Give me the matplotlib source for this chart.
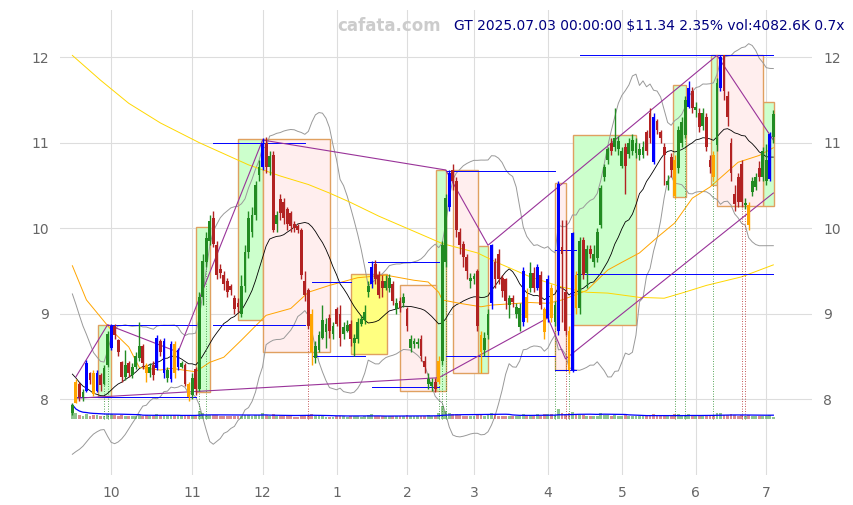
import numpy as np
import pandas as pd
import matplotlib
matplotlib.use("Agg")
from matplotlib import pyplot as plt
from matplotlib.patches import Rectangle

# trading days per month, Sep 16 2024 .. Jul 3 2025
month_days = [11, 23, 20, 21, 20, 19, 21, 21, 21, 20, 3]
month_labels = ['', '10', '11', '12', '1', '2', '3', '4', '5', '6', '7']

opens = [7.84, 7.95, 8.18, 8.02, 8.10, 8.30, 8.30, 8.10, 8.28, 8.18, 8.40,
         8.60, 8.86, 8.69, 8.43, 8.26, 8.42, 8.28, 8.38, 8.48, 8.62, 8.40, 8.30, 8.40, 8.36, 8.68, 8.30, 8.25, 8.24, 8.65, 8.38, 8.38, 8.40, 8.18,
         8.05, 8.35, 8.12, 9.20, 9.60, 9.85, 10.12, 9.80, 9.52, 9.45, 9.38, 9.32, 9.18, 9.12, 9.00, 9.32, 9.72, 9.95, 10.15, 10.62,
         10.72, 11.00, 10.72, 10.85, 10.05, 10.34, 10.30, 10.22, 10.18, 10.05, 10.02, 9.98, 9.38, 9.28, 9.00, 8.48, 8.58, 8.72, 8.78, 8.95, 8.76,
         9.05, 9.00, 8.76, 8.80, 8.88, 8.66, 8.70, 8.88, 8.92, 9.25, 9.35, 9.58, 9.45, 9.38, 9.30, 9.30, 9.35, 9.05, 9.15, 9.12,
         9.05, 8.60, 8.64, 8.64, 8.70, 8.45, 8.18, 8.15, 8.20, 8.20, 8.45, 9.60, 10.25, 10.68, 10.55, 9.95, 9.82, 9.66, 9.38,
         9.40, 9.50, 8.75, 8.58, 8.75, 9.12, 9.60, 9.70, 9.42, 9.40, 9.10, 9.18, 9.00, 8.84, 8.90, 9.20, 9.30, 9.48, 9.30, 9.45, 9.05,
         8.95, 9.30, 8.90, 8.80, 9.78, 9.25, 8.80, 8.34, 9.45, 9.06, 9.86, 9.48, 9.75, 9.60, 9.65, 10.04, 10.60, 10.80, 11.00, 10.95, 10.92,
         10.73, 10.95, 10.87, 10.90, 10.88, 10.85, 10.86, 11.12, 11.35, 11.30, 11.25, 11.12, 10.95, 10.50, 10.83, 10.80, 10.70, 11.00, 11.09, 11.42, 11.60,
         11.38, 11.35, 11.20, 11.30, 10.80, 10.85, 10.97, 11.64, 12.02, 11.55, 11.00, 10.40, 10.60, 10.75, 10.27, 10.27, 10.42, 10.48, 10.70, 10.60,
         10.55, 10.58, 11.07]
closes = [7.93, 8.20, 8.02, 8.08, 8.42, 8.22, 8.06, 8.30, 8.16, 8.36, 8.76,
          8.86, 8.75, 8.55, 8.26, 8.40, 8.30, 8.38, 8.50, 8.62, 8.42, 8.30, 8.38, 8.28, 8.72, 8.55, 8.68, 8.34, 8.64, 8.30, 8.58, 8.42, 8.18, 8.02,
          8.25, 8.12, 9.20, 9.62, 9.88, 10.08, 9.82, 9.45, 9.48, 9.35, 9.25, 9.28, 9.05, 9.08, 9.32, 9.72, 10.12, 10.15, 10.50, 10.72,
          11.00, 10.72, 10.84, 9.98, 10.15, 10.18, 10.12, 10.05, 10.02, 10.00, 9.98, 9.45, 9.22, 8.86, 8.55, 8.62, 8.75, 8.92, 8.88, 8.80, 8.85,
          8.88, 8.72, 8.84, 8.87, 8.70, 8.72, 8.90, 8.94, 9.02, 9.32, 9.55, 9.40, 9.22, 9.30, 9.38, 9.42, 9.15, 9.12, 9.07, 9.20,
          8.85, 8.70, 8.68, 8.67, 8.50, 8.38, 8.23, 8.20, 8.12, 8.45, 9.80, 10.35, 10.65, 10.55, 9.98, 9.80, 9.66, 9.50, 9.42,
          9.44, 8.85, 8.55, 8.72, 9.00, 9.80, 9.40, 9.40, 9.27, 9.15, 9.18, 9.14, 9.08, 9.07, 9.50, 8.95, 9.47, 9.30, 9.55, 9.10, 8.78,
          9.40, 8.95, 9.10, 10.52, 9.70, 8.80, 8.34, 9.94, 9.06, 9.85, 9.45, 9.75, 9.70, 9.70, 9.95, 10.47, 10.72, 10.92, 10.90, 11.05, 11.02,
          10.90, 10.73, 11.00, 11.03, 11.00, 10.93, 10.95, 10.90, 11.05, 10.77, 11.15, 11.05, 10.85, 10.55, 10.68, 10.38, 11.15, 11.24, 11.50, 11.64, 11.40,
          11.42, 11.18, 11.35, 10.95, 10.72, 10.60, 11.70, 12.00, 11.60, 11.30, 10.65, 10.28, 10.30, 10.30, 10.28, 10.04, 10.55, 10.60, 10.60, 10.90,
          10.80, 11.10, 11.34]
highs = [7.96, 8.24, 8.20, 8.12, 8.46, 8.32, 8.34, 8.34, 8.30, 8.40, 8.80,
         8.88, 8.88, 8.70, 8.45, 8.57, 8.45, 8.42, 8.55, 8.90, 8.65, 8.42, 8.42, 8.45, 8.75, 8.70, 8.72, 8.38, 8.68, 8.68, 8.60, 8.45, 8.42, 8.20,
         8.30, 8.38, 9.25, 9.70, 9.95, 10.15, 10.20, 9.85, 9.58, 9.50, 9.42, 9.35, 9.22, 9.18, 9.45, 9.80, 10.20, 10.25, 10.55, 10.80,
         11.05, 11.06, 10.90, 10.90, 10.20, 10.40, 10.35, 10.25, 10.20, 10.08, 10.05, 10.00, 9.50, 9.30, 9.05, 8.68, 8.80, 9.10, 8.95, 9.00, 8.90,
         9.08, 9.10, 8.90, 8.92, 8.92, 8.76, 8.95, 8.98, 9.10, 9.38, 9.62, 9.63, 9.50, 9.45, 9.45, 9.46, 9.38, 9.18, 9.20, 9.24,
         9.08, 8.75, 8.72, 8.72, 8.75, 8.50, 8.30, 8.25, 8.25, 8.50, 9.85, 10.40, 10.68, 10.75, 10.60, 10.00, 9.85, 9.70, 9.48,
         9.48, 9.52, 8.80, 8.78, 9.05, 9.82, 9.65, 9.75, 9.45, 9.42, 9.22, 9.22, 9.12, 9.12, 9.55, 9.30, 9.60, 9.55, 9.58, 9.50, 9.08,
         9.45, 9.35, 9.15, 10.55, 10.10, 10.10, 8.85, 9.95, 9.50, 9.90, 9.90, 9.80, 9.80, 9.80, 10.00, 10.50, 10.75, 10.95, 11.05, 11.40, 11.08,
         10.95, 11.00, 11.05, 11.10, 11.05, 11.00, 11.02, 11.15, 11.40, 11.35, 11.28, 11.15, 11.00, 10.62, 10.88, 10.85, 11.20, 11.30, 11.55, 11.72, 11.65,
         11.48, 11.40, 11.40, 11.35, 10.85, 10.90, 11.75, 12.02, 12.03, 11.60, 11.05, 10.50, 10.65, 10.80, 10.35, 10.30, 10.60, 10.65, 10.78, 10.95,
         10.98, 11.12, 11.38]
lows = [7.82, 7.95, 7.98, 7.98, 8.08, 8.18, 8.04, 8.08, 8.10, 8.16, 8.38,
        8.58, 8.70, 8.50, 8.20, 8.22, 8.26, 8.25, 8.35, 8.45, 8.35, 8.20, 8.26, 8.22, 8.34, 8.50, 8.25, 8.20, 8.20, 8.25, 8.34, 8.36, 8.15, 7.98,
        8.00, 8.05, 8.10, 9.10, 9.55, 9.80, 9.78, 9.40, 9.42, 9.28, 9.20, 9.22, 9.00, 9.02, 8.96, 9.25, 9.65, 9.90, 10.10, 10.55,
        10.68, 10.65, 10.62, 9.95, 9.96, 10.10, 10.05, 9.98, 9.96, 9.96, 9.94, 9.40, 9.15, 8.82, 8.40, 8.42, 8.55, 8.70, 8.60, 8.72, 8.70,
        8.85, 8.62, 8.70, 8.78, 8.62, 8.50, 8.66, 8.85, 8.88, 9.20, 9.30, 9.35, 9.18, 9.20, 9.28, 9.25, 9.10, 9.00, 9.02, 9.08,
        8.80, 8.55, 8.60, 8.60, 8.45, 8.30, 8.12, 8.10, 8.08, 8.18, 8.40, 9.55, 10.20, 10.45, 9.90, 9.70, 9.55, 9.40, 9.30,
        9.35, 8.80, 8.30, 8.50, 8.70, 9.05, 9.30, 9.35, 9.20, 9.05, 8.95, 9.08, 8.95, 8.80, 8.85, 8.90, 9.25, 9.25, 9.28, 9.05, 8.70,
        8.90, 8.90, 8.85, 8.75, 8.90, 8.75, 8.30, 8.32, 9.00, 9.00, 9.40, 9.30, 9.65, 9.55, 9.60, 10.00, 10.55, 10.75, 10.85, 10.90, 10.85,
        10.70, 10.40, 10.82, 10.85, 10.82, 10.80, 10.82, 10.85, 11.00, 10.75, 11.10, 11.00, 10.50, 10.45, 10.60, 10.35, 10.65, 10.95, 11.05, 11.40, 11.35,
        11.30, 11.12, 11.15, 10.90, 10.65, 10.55, 10.90, 11.60, 11.50, 11.20, 10.55, 10.20, 10.25, 10.25, 10.22, 9.98, 10.38, 10.45, 10.55, 10.55,
        10.50, 10.55, 11.00]
# volume in thousands
volumes = [22000, 9000, 6000, 5500, 8000, 5000, 6000, 7000, 5000, 5500, 7500,
           8500, 6000, 5500, 7000, 5000, 4800, 4500, 5000, 6000, 5500, 6500, 4800, 5000, 7500, 5000, 7000, 5000, 7000, 6500, 6800, 4500, 5500, 7000,
           5500, 6000, 12000, 9000, 7000, 7000, 6500, 6000, 5000, 5000, 4800, 4500, 5500, 4500, 5500, 6500, 7000, 5500, 6500, 6000,
           9000, 7000, 5500, 8000, 5000, 4500, 4500, 4500, 4200, 4000, 4000, 7000, 5500, 7000, 8500, 5000, 4500, 5000, 4000, 3500, 4000,
           4500, 5500, 4500, 4000, 5000, 4500, 5000, 4000, 4500, 6000, 7500, 5500, 5000, 4500, 4200, 4500, 5000, 4500, 4200, 4500,
           6000, 5500, 4500, 4200, 5500, 5000, 6000, 4800, 5000, 9000, 20000, 12000, 10000, 7500, 8000, 6000, 5500, 5000, 4800,
           4500, 7000, 8000, 5500, 6000, 9500, 6000, 5500, 5000, 5500, 4500, 4200, 4500, 5000, 8000, 7000, 5000, 5000, 7500, 5500, 7500,
           8500, 7500, 6000, 16000, 9000, 8000, 9500, 11000, 7500, 6500, 6000, 5500, 4500, 4500, 5500, 9000, 7000, 6000, 5500, 6500, 5000,
           5000, 6000, 4500, 4500, 4500, 4200, 4200, 5000, 5500, 7500, 5000, 4500, 6000, 5000, 5000, 7500, 8000, 6000, 7000, 8000, 5500,
           4500, 5000, 4500, 5500, 5500, 6500, 9000, 9000, 7000, 6000, 7500, 6500, 5500, 6000, 5000, 6500, 5500, 5000, 4500, 5500,
           5500, 6500, 4082.6]
# closes before the window (needed for the 20-day band at the start)
pre_closes = [9.10, 9.05, 8.95, 8.90, 8.80, 8.70, 8.55, 8.45, 8.40, 8.20,
              8.10, 7.95, 7.90, 7.85, 7.80, 7.75, 7.80, 7.85, 7.82]

# highlighted candles
blue_days = [4, 7, 11, 24, 26, 28, 30, 54, 85, 107, 119, 128, 132, 135, 138, 142, 165, 175, 184, 198]
orange_days = [1, 6, 21, 29, 33, 68, 104, 116, 129, 134, 136, 141, 143, 171, 182, 192]
green_marks = [9, 10, 36, 38, 104, 105, 106, 137, 141, 171, 174, 182]
red_marks = [67, 140, 190, 191]

# slower averages
ma50_idx = [0, 4, 11, 16, 19, 25, 28, 35, 39, 43, 48, 55, 62, 67, 73, 81, 89, 97, 101, 104, 105,
            110, 116, 119, 130, 135, 139, 146, 152, 156, 161, 166, 171, 176, 181, 189, 195, 199]
ma50_val = [9.56, 9.16, 8.81, 8.61, 8.37, 8.34, 8.36, 8.32, 8.43, 8.49, 8.69, 8.98, 9.06, 9.25, 9.33, 9.42, 9.45, 9.39, 9.37, 9.25, 9.16,
            9.12, 9.08, 9.10, 9.13, 9.12, 9.16, 9.27, 9.51, 9.60, 9.71, 9.89, 10.06, 10.35, 10.48, 10.77, 10.85, 10.94]
ma200_idx = [0, 8, 16, 25, 36, 50, 59, 67, 73, 79, 87, 96, 105, 115, 121, 130, 139, 146, 152, 161, 168, 173, 180, 190, 199]
ma200_val = [12.02, 11.73, 11.46, 11.23, 11.00, 10.74, 10.61, 10.51, 10.41, 10.30, 10.14, 9.98, 9.82, 9.71, 9.59, 9.43, 9.31,
             9.25, 9.24, 9.19, 9.18, 9.24, 9.33, 9.43, 9.57]

# swing lines
upper_zz_idx = [1, 10, 30, 54, 106, 118, 183, 199]
upper_zz_val = [8.26, 8.87, 8.55, 11.03, 10.68, 9.80, 12.02, 11.03]
lower_zz_idx = [1, 104, 135, 140, 199]
lower_zz_val = [8.01, 8.25, 8.95, 8.47, 10.41]

# boxes: start, end, low, high
green_boxes = [(7.3, 11.0, 8.03, 8.87), (35.2, 39.1, 8.08, 10.01), (47.1, 54.2, 8.92, 11.04),
               (103.3, 106.2, 8.10, 10.68), (115.3, 118.1, 8.30, 9.79), (142.2, 160.1, 8.87, 11.09),
               (170.4, 174.3, 10.36, 11.67), (181.2, 183.1, 10.50, 12.02), (196.2, 199.3, 10.26, 11.47)]
pink_boxes = [(54.2, 73.2, 8.55, 11.04), (93.0, 103.3, 8.10, 9.33), (108.1, 115.3, 8.30, 10.68),
              (137.1, 140.2, 8.34, 10.53), (183.1, 196.2, 10.26, 12.02)]
yellow_boxes = [(79.2, 89.4, 8.53, 9.46)]

# levels: price, start, end
levels = [(8.87, 10, 35), (8.02, 1, 35), (11.00, 40, 66), (8.87, 40, 66), (9.37, 68, 79),
          (8.50, 68, 83), (9.60, 84, 104), (8.14, 85, 104), (10.67, 106, 137), (8.50, 106, 137),
          (9.74, 137, 143), (8.34, 137, 143), (9.46, 143, 199), (12.02, 144, 199)]

n = len(closes)
x = np.arange(n)
o = np.array(opens)
c = np.array(closes)
h = np.maximum(np.array(highs), np.maximum(o, c))
l = np.minimum(np.array(lows), np.minimum(o, c))
v = np.array(volumes)

full = pd.Series(pre_closes + closes)
ma20 = full.rolling(20).mean().values[len(pre_closes):]
sd20 = full.rolling(20).std(ddof=0).values[len(pre_closes):]

fig = plt.figure(figsize=(8.54, 5.05), dpi=100)
ax = fig.add_axes([0.0703, 0.059, 0.8806, 0.921])

# boxes
for (a, b, lo, hi) in green_boxes:
    ax.add_patch(Rectangle((a, lo), b - a, hi - lo, fc='#ccffcc', ec='#e0a060', lw=1.0, zorder=1))
for (a, b, lo, hi) in pink_boxes:
    ax.add_patch(Rectangle((a, lo), b - a, hi - lo, fc='#ffeeee', ec='#e0a060', lw=1.0, zorder=1))
for (a, b, lo, hi) in yellow_boxes:
    ax.add_patch(Rectangle((a, lo), b - a, hi - lo, fc='#ffff80', ec='#e0a060', lw=1.0, zorder=1))

# bands and averages
ax.plot(x, ma20 + 2 * sd20, color='#999999', lw=0.7, zorder=2)
ax.plot(x, ma20 - 2 * sd20, color='#999999', lw=0.7, zorder=2)
ax.plot(x, ma20, color='black', lw=0.6, zorder=2)
ax.plot(ma50_idx, ma50_val, color='orange', lw=0.7, zorder=2)
ax.plot(ma200_idx, ma200_val, color='gold', lw=0.7, zorder=2)

# levels and swing lines
for (p, a, b) in levels:
    ax.plot([a, b], [p, p], color='blue', lw=0.7, zorder=3)
ax.plot(upper_zz_idx, upper_zz_val, color='#993399', lw=0.8, zorder=3)
ax.plot(lower_zz_idx, lower_zz_val, color='#993399', lw=0.8, zorder=3)

# volume strip at the bottom
vbase = 7.765
vh = v / v.max() * 0.17
vcol = np.where(c >= o, '#228b22', '#b22222')
ax.bar(x, vh, 0.8, bottom=vbase, color=vcol, alpha=0.5, zorder=2)
ax.plot(x, vbase + pd.Series(vh).rolling(20, min_periods=1).mean().values, color='blue', lw=0.9, zorder=3)

# dotted markers
for i in green_marks:
    ax.plot([i, i], [vbase, l[i]], color='#228b22', lw=0.6, ls=(0, (1, 2)), zorder=2)
for i in red_marks:
    ax.plot([i, i], [vbase, l[i]], color='#b22222', lw=0.6, ls=(0, (1, 2)), zorder=2)

# candles
cols = np.where(c >= o, '#228b22', '#b22222').astype(object)
for i in blue_days:
    cols[i] = 'blue'
for i in orange_days:
    cols[i] = 'orange'
ax.vlines(x, l, h, colors=list(cols), lw=1.0, zorder=4)
body_lo = np.minimum(o, c)
body_h = np.maximum(np.abs(c - o), 0.02)
ax.bar(x, body_h, 0.8, bottom=body_lo, color=list(cols), zorder=5)

# axes
starts = np.cumsum([0] + month_days[:-1])
ax.set_xticks(starts[1:])
ax.set_xticklabels(month_labels[1:])
ax.set_xlim(-3.5, 210)
ax.set_ylim(7.11, 12.55)
ax.set_yticks([8, 9, 10, 11, 12])
ax.grid(True, color='#dddddd', lw=0.8, zorder=0)
ax.set_axisbelow(True)
for s in ax.spines.values():
    s.set_visible(False)
ax.tick_params(axis='both', length=0, labelsize=10, labelcolor='#666666', pad=8)
ax.tick_params(axis='y', labelright=True, labelleft=True)

fig.text(0.456, 0.949, 'cafata.com', fontsize=12, fontweight='bold', color='#cccccc',
         ha='center', va='center')
fig.text(0.989, 0.949, 'GT 2025.07.03 00:00:00 $11.34 2.35% vol:4082.6K 0.7x',
         fontsize=10, color='#000080', ha='right', va='center')

fig.savefig('out.png', dpi=100)
